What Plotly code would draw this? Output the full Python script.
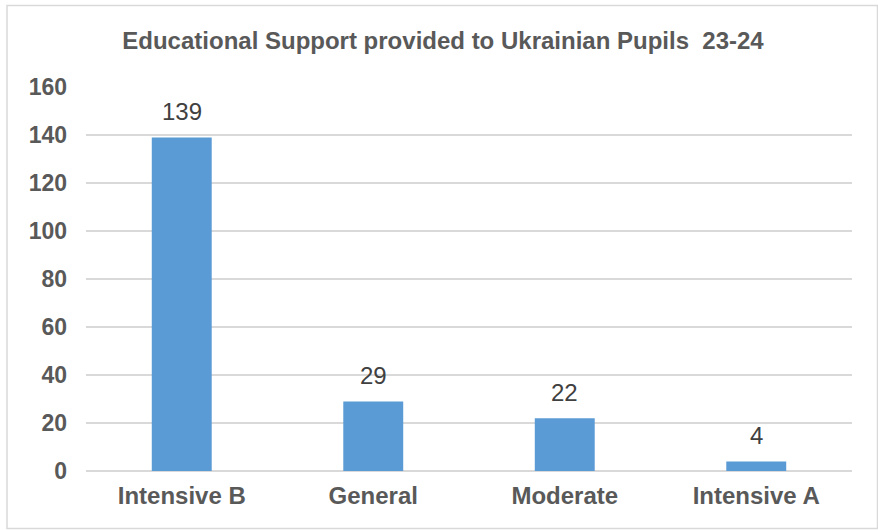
import plotly.graph_objs as go

# Chart data
categories = ['Intensive B', 'General', 'Moderate', 'Intensive A']
pupils = [139, 29, 22, 4]
y_ticks = [0, 20, 40, 60, 80, 100, 120, 140, 160]

font_family = 'Arial, Liberation Sans, sans-serif'
text_grey = '#595959'

fig = go.Figure()

fig.add_trace(go.Bar(x=categories, y=pupils, width=0.313,
                     marker=dict(color='#5B9BD5', line=dict(width=0)),
                     hoverinfo='x+y'))

# Value labels above the bars
for cat, val in zip(categories, pupils):
    fig.add_annotation(x=cat, y=val, text=str(val), showarrow=False,
                       yanchor='bottom', yshift=10,
                       font=dict(family=font_family, size=24, color='#404040'))

# Light grey frame round the whole chart
fig.add_shape(type='rect', xref='paper', yref='paper',
              x0=(7 - 86) / 766, x1=(877.5 - 86) / 766,
              y0=(471 - 528.5) / 384, y1=(471 - 5.5) / 384,
              line=dict(color='#D9D9D9', width=1.5), fillcolor='rgba(0,0,0,0)',
              layer='below')

fig.update_layout(
    width=878, height=530,
    margin=dict(l=86, r=26, t=87, b=59),
    plot_bgcolor='white', paper_bgcolor='white',
    showlegend=False,
    title=dict(text='<b>Educational Support provided to Ukrainian Pupils  23-24</b>',
               x=443 / 878, xanchor='center', y=1 - 41 / 530, yanchor='middle',
               xref='container', yref='container',
               font=dict(family=font_family, size=24, color=text_grey)),
    font=dict(family=font_family, color=text_grey),
)

fig.update_xaxes(showgrid=False, showline=False, ticks='', ticklabelstandoff=8,
                 tickfont=dict(family=font_family, size=24, color=text_grey,
                               weight='bold'))
fig.update_yaxes(range=[0, 160], tickvals=y_ticks, showgrid=True,
                 gridcolor='#D9D9D9', gridwidth=1.5, zeroline=True,
                 zerolinecolor='#D9D9D9', zerolinewidth=1.5,
                 showline=False, ticks='', ticklabelstandoff=18,
                 tickfont=dict(family=font_family, size=23, color=text_grey,
                               weight='bold'))

# drop the browser's default page margin so the chart sits at the window edge
fig.write_html('out.html', config={'displayModeBar': False},
               post_script="document.body.style.margin='0';")
